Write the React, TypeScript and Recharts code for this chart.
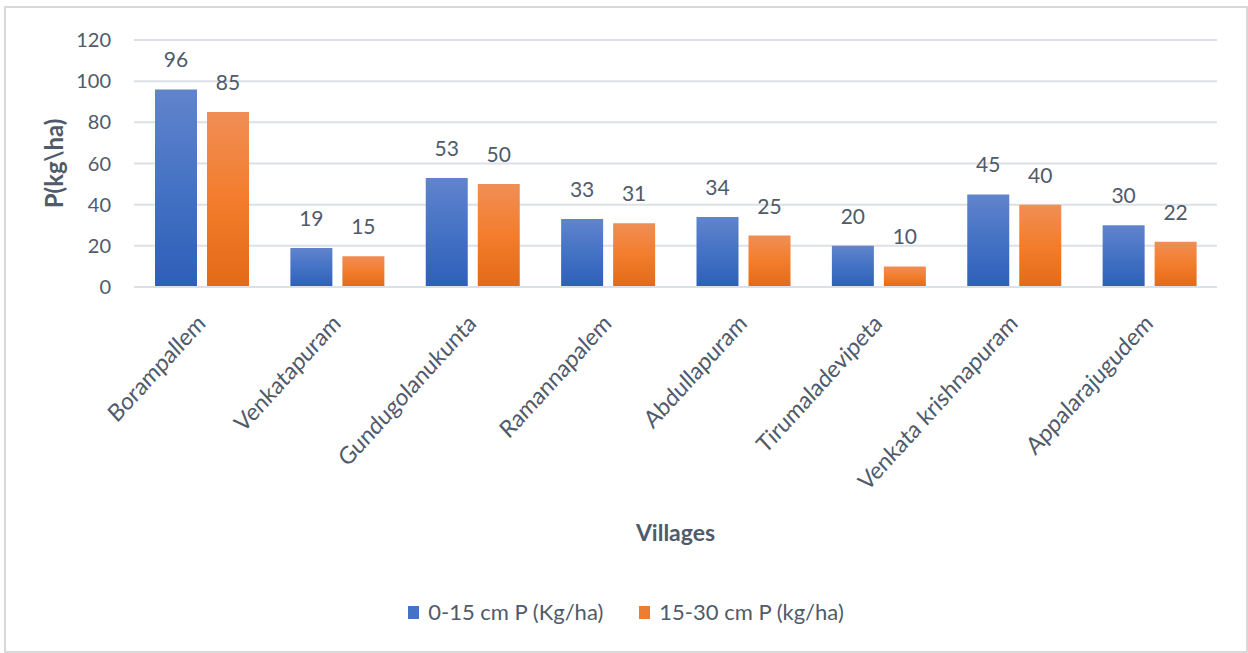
import React from "react";
import { Bar, BarChart, CartesianGrid, LabelList, XAxis, YAxis } from "recharts";

const villages = [
  "Borampallem",
  "Venkatapuram",
  "Gundugolanukunta",
  "Ramannapalem",
  "Abdullapuram",
  "Tirumaladevipeta",
  "Venkata krishnapuram",
  "Appalarajugudem",
];
const topSoil = [96, 19, 53, 33, 34, 20, 45, 30];
const subSoil = [85, 15, 50, 31, 25, 10, 40, 22];
const yTicks = [0, 20, 40, 60, 80, 100, 120];

const series = [
  { key: "top", name: "0-15 cm P (Kg/ha)", fill: "url(#blueGrad)", swatch: "#4472c4" },
  { key: "sub", name: "15-30 cm P (kg/ha)", fill: "url(#orangeGrad)", swatch: "#ed7d31" },
];

const data = villages.map((v, i) => ({ village: v, top: topSoil[i], sub: subSoil[i] }));

const FONT = "Lato, 'Open Sans', sans-serif";
const GRAY = "#4f5a6a";

// the source image looks a little stretched vertically, so the labels get a slight scaleY
function VillageTick(props: any) {
  const { x, y, payload } = props;
  const ax = x + 5;
  const ay = y + 38;
  return (
    <text
      x={0}
      y={0}
      transform={`translate(${ax} ${ay}) scale(1 1.1) rotate(-45)`}
      textAnchor="end"
      fill={GRAY}
      fontSize={22}
      fontFamily={FONT}
    >
      {payload.value}
    </text>
  );
}

export default function App() {
  return (
    <div style={{ position: "absolute", left: 0, top: 0, width: 1248, height: 653, background: "#fff", fontFamily: FONT }}>
      <div
        style={{
          position: "absolute",
          left: 4,
          top: 6,
          width: 1240,
          height: 643,
          border: "2px solid #d9d9d9",
        }}
      />
      <div style={{ position: "absolute", left: 0, top: 0 }}>
        <BarChart
          width={1248}
          height={653}
          data={data}
          margin={{ top: 40, right: 31, left: 0, bottom: 0 }}
          barGap={10}
          barSize={42}
        >
          <defs>
            <linearGradient id="blueGrad" x1="0" y1="0" x2="0" y2="1">
              <stop offset="0%" stopColor="#6184cc" />
              <stop offset="50%" stopColor="#4472c4" />
              <stop offset="100%" stopColor="#2e5fb8" />
            </linearGradient>
            <linearGradient id="orangeGrad" x1="0" y1="0" x2="0" y2="1">
              <stop offset="0%" stopColor="#f08e55" />
              <stop offset="50%" stopColor="#f37d2c" />
              <stop offset="100%" stopColor="#e26a17" />
            </linearGradient>
          </defs>
          <CartesianGrid vertical={false} stroke="#dde0e6" strokeWidth={2} />
          <XAxis
            dataKey="village"
            height={366}
            interval={0}
            tickSize={0}
            tickMargin={0}
            tickLine={false}
            axisLine={{ stroke: "#dde0e6", strokeWidth: 2 }}
            tick={<VillageTick />}
            label={{
              content: ({ viewBox }: any) => (
                <text
                  x={viewBox.x + viewBox.width / 2}
                  y={viewBox.y + 254}
                  textAnchor="middle"
                  fill={GRAY}
                  fontSize={23}
                  fontWeight="bold"
                  fontFamily={FONT}
                >
                  Villages
                </text>
              ),
            }}
          />
          <YAxis
            width={134}
            domain={[0, 120]}
            ticks={yTicks}
            tickSize={0}
            tickMargin={23}
            tickLine={false}
            axisLine={false}
            tick={{ fill: GRAY, fontSize: 20, fontFamily: FONT }}
            label={{
              content: ({ viewBox }: any) => {
                const cx = 53;
                const cy = viewBox.y + viewBox.height / 2;
                return (
                  <text
                    x={cx}
                    y={cy}
                    transform={`rotate(-90 ${cx} ${cy})`}
                    textAnchor="middle"
                    dominantBaseline="central"
                    fill={GRAY}
                    fontSize={24}
                    fontWeight="bold"
                    fontFamily={FONT}
                  >
                    P(kg\ha)
                  </text>
                );
              },
            }}
          />
          {series.map((s) => (
            <Bar key={s.key} dataKey={s.key} name={s.name} fill={s.fill} isAnimationActive={false}>
              <LabelList
                dataKey={s.key}
                position="top"
                offset={22}
                fill={GRAY}
                fontSize={21}
                fontFamily={FONT}
              />
            </Bar>
          ))}
        </BarChart>
      </div>
      <div
        style={{
          position: "absolute",
          left: 0,
          top: 598,
          width: 1248,
          display: "flex",
          justifyContent: "center",
          gap: 36,
          color: GRAY,
          fontSize: 22,
          lineHeight: "28px",
          paddingLeft: 4,
          boxSizing: "border-box",
        }}
      >
        {series.map((s) => (
          <div key={s.key} style={{ display: "flex", alignItems: "center", gap: 9 }}>
            <span style={{ display: "inline-block", width: 11, height: 13, background: s.swatch }} />
            <span>{s.name}</span>
          </div>
        ))}
      </div>
    </div>
  );
}
